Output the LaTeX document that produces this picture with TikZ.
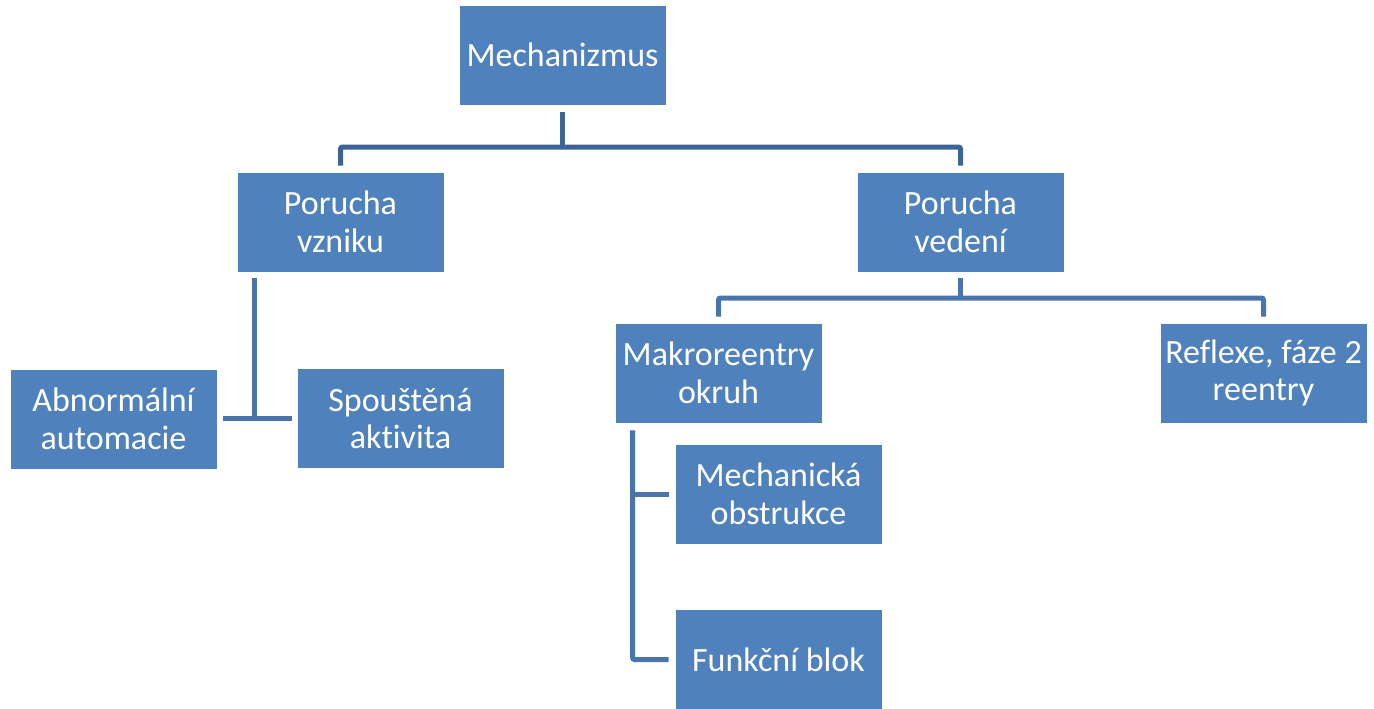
\documentclass[tikz,border=0pt]{standalone}
\usepackage{fontspec}
\setmainfont{Carlito}[Ligatures=NoCommon]
\usetikzlibrary{calc}
\definecolor{boxblue}{HTML}{4F81BD}
\definecolor{topline}{HTML}{3D6496}
\definecolor{subline}{HTML}{4A74AC}
\tikzset{
  orgbox/.style={draw=white, line width=0.8pt, fill=boxblue, text=white, align=center,
    minimum width=207pt, minimum height=100pt, inner sep=0pt,
    font=\fontsize{34}{37.5}\selectfont},
  conn/.style={line width=5pt, rounded corners=2pt},
}
\begin{document}
\begin{tikzpicture}[x=1pt,y=-1pt]
\useasboundingbox (0,0) rectangle (1374,709);
\node[orgbox] (mech) at (562.5,55) {Mechanizmus};
\node[orgbox] (pvz) at (340.5,222) {Porucha\\vzniku};
\node[orgbox] (pve) at (960.5,222) {Porucha\\vedení};
\node[orgbox] (abn) at (113.5,419) {Abnormální\\automacie};
\node[orgbox] (spou) at (400.5,418.5) {Spouštěná\\aktivita};
\node[orgbox] (makro) at (718.5,373) {Makroreentry\\okruh};
\node[orgbox] (refl) at (1263.5,373) {Reflexe, fáze 2\\reentry};
\node[orgbox] (mobs) at (778.5,494) {Mechanická\\obstrukce};
\node[orgbox] (funk) at (778.5,659.5) {Funkční blok};

\coordinate (j1) at (562.5,147);
\coordinate (j2) at (960.5,298);
\draw[conn, topline] ([yshift=-7pt]mech.south) -- (j1);
\draw[conn, topline] ([yshift=6pt]pvz.north) |- (j1) -| ([yshift=6pt]pve.north);
\draw[conn, subline] ([yshift=-6pt]pve.south) -- (j2);
\draw[conn, subline] ([yshift=6pt]makro.north) |- (j2) -| ([yshift=6pt]refl.north);

\coordinate (j3) at ($(pvz.south west)+(18,0)$);
\draw[conn, subline] ([yshift=-6pt]j3) -- (j3 |- spou.west);
\draw[conn, subline] ([xshift=6pt]abn.east |- spou.west) -- ([xshift=-5pt]spou.west);

\coordinate (j4) at ($(makro.south west)+(18,0)$);
\draw[conn, subline] ([yshift=-7pt]j4) |- ([xshift=-6pt]funk.west);
\draw[conn, subline] (j4 |- mobs.west) -- ([xshift=-6pt]mobs.west);
\end{tikzpicture}
\end{document}
